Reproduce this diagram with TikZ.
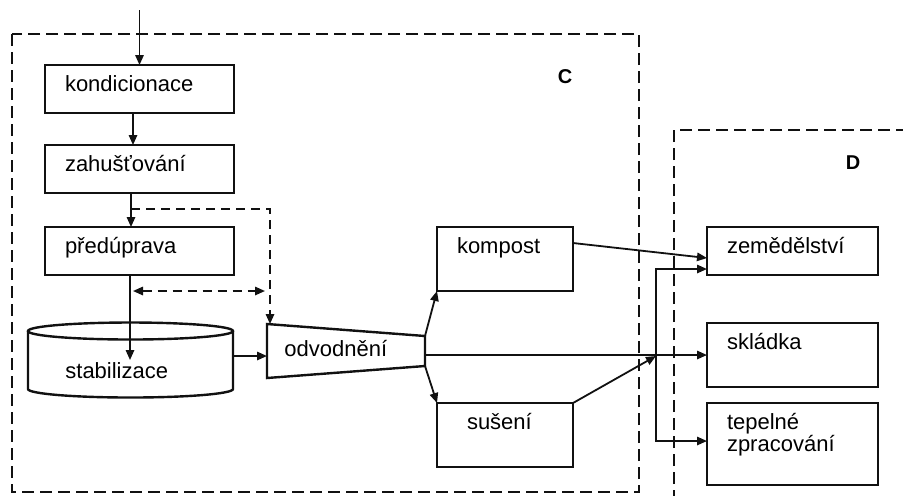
\documentclass[tikz,border=0pt]{standalone}
\usepackage{fontspec}
\setmainfont{Liberation Sans}
\usepackage{tikz}
\usetikzlibrary{arrows.meta,positioning,calc}
\definecolor{ink}{HTML}{111111}
\tikzset{
  blok/.style={draw=ink,line width=1.4pt,anchor=north west,outer sep=0pt,
               align=left,inner xsep=10pt,inner ysep=0pt,text height=13pt,
               font=\fontsize{11}{10}\selectfont},
  popis/.style={inner sep=0pt,font=\fontsize{11}{10}\selectfont},
  valec/.style={draw=ink,line width=1.2pt},
  sipka/.style={-{Triangle[length=5pt,width=4.2pt]},line width=0.9pt,draw=ink},
  carka/.style={sipka,dash pattern=on 4.5pt off 3pt},
  oblast/.style={line width=1.3pt,draw=ink,dash pattern=on 6pt off 3pt},
  oznaceni/.style={font=\fontsize{10}{10}\selectfont\bfseries}
}

\begin{document}
\begin{tikzpicture}[x=0.5pt,y=-0.5pt]
    \useasboundingbox (0,0) rectangle (903,495);
    % oblasti C a D
    \draw[oblast] (12,34) rectangle (639,492);
    \draw[oblast] (674,520) |- (930,130);
    \node[oznaceni] (labC) at (565,77) {C};
    \node[oznaceni] (labD) at (853,163) {D};

    % levy sloupec
    \node[blok,text width=74.5pt,text depth=11pt] (kond) at (45,65) {kondicionace};
    \node[blok,text width=74.5pt,text depth=11pt] (zah) at (45,145) {zahušťování};
    \node[blok,text width=74.5pt,text depth=11pt] (pred) at (45,227) {předúprava};
    \coordinate (vstup) at (139.5,10);
    \draw[sipka] (vstup) -- (kond.north);
    \draw[sipka] ([xshift=-3.25pt]kond.south) -- ([xshift=-3.25pt]zah.north);
    \draw[sipka] ([xshift=-4.25pt]zah.south) -- ([xshift=-4.25pt]pred.north);

    % stabilizace (valec)
    \draw[valec] (130.5,331) ellipse [x radius=51.25pt,y radius=4.25pt];
    \draw[valec] (28,331) -- (28,389)
      arc[start angle=180,end angle=360,x radius=51.25pt,y radius=4.25pt] -- (233,331);
    \node[popis,anchor=base west] (stab) at (65,378) {stabilizace};
    \coordinate (stabvstup) at (130,360);
    \coordinate (stabvystup) at (233,356);
    \draw[sipka] ([xshift=-4.75pt]pred.south) -- (stabvstup);

    % odvodneni (lichobeznik)
    \coordinate (odvLH) at (267,324);
    \coordinate (odvPH) at (425,336);
    \coordinate (odvPD) at (425,366);
    \coordinate (odvLD) at (267,378);
    \draw[valec] (odvLH) -- (odvPH) -- (odvPD) -- (odvLD) -- cycle;
    \node[popis,anchor=base west] (odv) at (284,356) {odvodnění};
    \coordinate (odvvstup) at (267,356);
    \coordinate (odvvystup) at (425,355);
    \draw[sipka] (stabvystup) -- (odvvstup);

    % carkovane vazby
    \coordinate (odboc) at (131,209);
    \coordinate (odbocroh) at (270,209);
    \coordinate (odvhore) at (270,324);
    \draw[carka] (odboc) -- (odbocroh) -- (odvhore);
    \coordinate (zpetL) at (133,291);
    \coordinate (zpetP) at (265,291);
    \draw[carka,{Triangle[length=5pt,width=4.2pt]}-{Triangle[length=5pt,width=4.2pt]}] (zpetL) -- (zpetP);

    % kompost a suseni
    \node[blok,text width=48pt,text depth=19pt] (kompost) at (437,227) {kompost};
    \node[blok,inner xsep=15pt,text width=38pt,text depth=19pt] (susen) at (437,403) {sušení};
    \draw[sipka] (odvPH) -- (kompost.south west);
    \draw[sipka] (odvPD) -- (susen.north west);

    % oblast D
    \node[blok,text width=65.5pt,text depth=11pt] (zem) at (707,227) {zemědělství};
    \node[blok,text width=65.5pt,text depth=19pt] (skl) at (707,323) {skládka};
    \node[blok,text width=65.5pt,text depth=28pt] (tep) at (707,403) {tepelné\\zpracování};
    \coordinate (rozv) at (656,356);
    \draw[sipka] ([yshift=8pt]kompost.east) -- ([yshift=-3.5pt]zem.west);
    \draw[sipka] (odvvystup) -- (skl.west);
    \draw[sipka] (susen.north east) -- (rozv);
    \draw[sipka] (rozv) |- ([yshift=-9pt]zem.west);
    \draw[sipka] (rozv) |- ([yshift=1.5pt]tep.west);
\end{tikzpicture}
\end{document}
